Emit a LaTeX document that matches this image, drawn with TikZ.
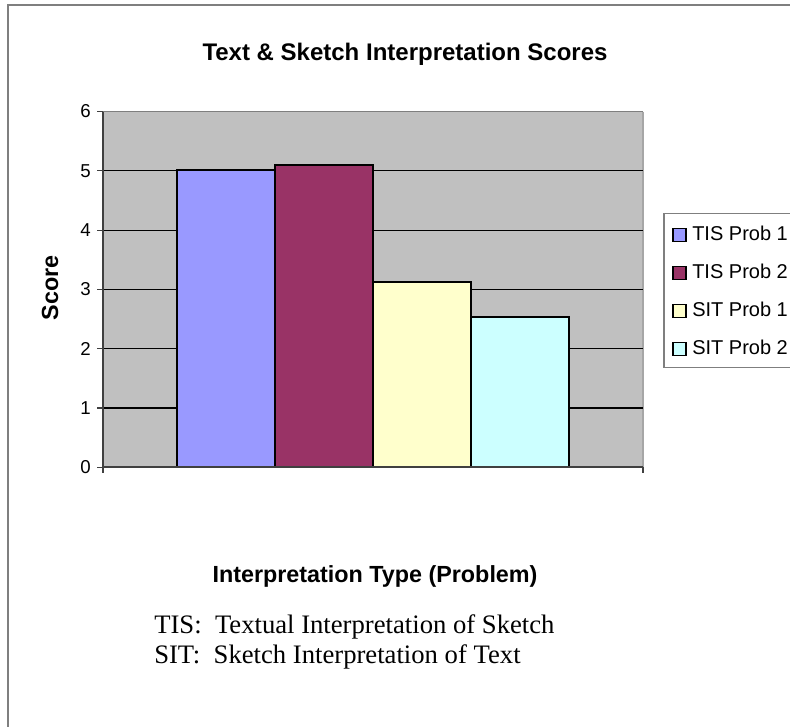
\documentclass[tikz,border=0pt]{standalone}
\usepackage{fontspec}
\setmainfont{Liberation Serif}
\newfontfamily\arialfont{Liberation Sans}
\definecolor{framegray}{HTML}{7F7F7F}
\definecolor{plotbg}{HTML}{C0C0C0}
\definecolor{axisgray}{HTML}{404040}
\definecolor{barA}{HTML}{9999FF}
\definecolor{barB}{HTML}{993366}
\definecolor{barC}{HTML}{FFFFCC}
\definecolor{barD}{HTML}{CCFFFF}
\tikzset{
  bar/.style={draw=black, line width=1.5pt},
  gridline/.style={draw=black, line width=0.8pt},
  axisline/.style={draw=axisgray, line width=1.5pt},
  ticklabel/.style={anchor=east, inner sep=0pt, font=\arialfont\fontsize{14}{16}\selectfont},
  legendtext/.style={anchor=west, inner sep=0pt, font=\arialfont\fontsize{15}{17}\selectfont},
  swatch/.style={draw=black, line width=0.9pt, minimum width=9.75pt, minimum height=9.75pt, inner sep=0pt},
  boldlabel/.style={inner sep=0pt, font=\arialfont\bfseries\fontsize{17.5}{20}\selectfont},
  notetext/.style={anchor=base west, inner sep=0pt, font=\fontsize{20}{22.5}\selectfont},
}
% value-to-pixel conversion for the score axis
\newcommand{\yv}[1]{467.3-59.3*#1}
\begin{document}
\begin{tikzpicture}[x=0.75pt,y=-0.75pt]
\useasboundingbox (0,0) rectangle (790,726);
\begin{scope}
\clip (0,0) rectangle (790,726);

% outer chart frame
\draw[framegray, line width=1.5pt] (8,727) -- (8,5) -- (791,5);

% title
\node[boldlabel, anchor=base, font=\arialfont\bfseries\fontsize{18}{20}\selectfont] (title) at (405,60) {Text \& Sketch Interpretation Scores};

% plot area
\fill[plotbg] (103,{\yv{6}}) rectangle (643,{\yv{0}});
\draw[framegray, line width=1.2pt] (103,{\yv{6}}) -- (643,{\yv{6}});
\draw[draw=gray!70, line width=1pt] (643,{\yv{6}}) -- (643,{\yv{0}});
\foreach \v in {1,...,5}
  \draw[gridline] (103,{\yv{\v}}) -- (643,{\yv{\v}});

% bars
\draw[bar, fill=barA] (177,{\yv{5.02}}) rectangle (275,{\yv{0}});
\draw[bar, fill=barB] (275,{\yv{5.09}}) rectangle (373,{\yv{0}});
\draw[bar, fill=barC] (373,{\yv{3.12}}) rectangle (471,{\yv{0}});
\draw[bar, fill=barD] (471,{\yv{2.53}}) rectangle (569,{\yv{0}});

% axes and ticks
\draw[axisline] (103,{\yv{6}}) -- (103,473);
\draw[axisline] (103,{\yv{0}}) -- (643,{\yv{0}});
\draw[axisline, line width=1pt] (643,{\yv{0}}) -- (643,473);
\foreach \v in {0,...,6} {
  \draw[axisgray, line width=0.9pt] (97,{\yv{\v}}) -- (103,{\yv{\v}});
  \node[ticklabel] (tick\v) at (91,{\yv{\v}}) {\v};
}

% axis titles
\node[boldlabel, rotate=90] (ytitle) at (50,288) {Score};
\node[boldlabel, anchor=base] (xtitle) at (375,582) {Interpretation Type (Problem)};

% legend
\draw[framegray, line width=0.9pt, fill=white] (664,213.5) rectangle (800,367.5);
\node[swatch, fill=barA] (swA) at (679.5,235) {};
\node[swatch, fill=barB] (swB) at (679.5,273) {};
\node[swatch, fill=barC] (swC) at (679.5,311) {};
\node[swatch, fill=barD] (swD) at (679.5,349) {};
\node[legendtext] (legA) at (692,233) {TIS Prob 1};
\node[legendtext] (legB) at (692,271) {TIS Prob 2};
\node[legendtext] (legC) at (692,309) {SIT Prob 1};
\node[legendtext] (legD) at (692,347) {SIT Prob 2};

% notes under the chart
\node[notetext] (noteA) at (154,633) {TIS:\ \ Textual Interpretation of Sketch};
\node[notetext] (noteB) at (154,663) {SIT:\ \ Sketch Interpretation of Text};
\end{scope}
\end{tikzpicture}
\end{document}
